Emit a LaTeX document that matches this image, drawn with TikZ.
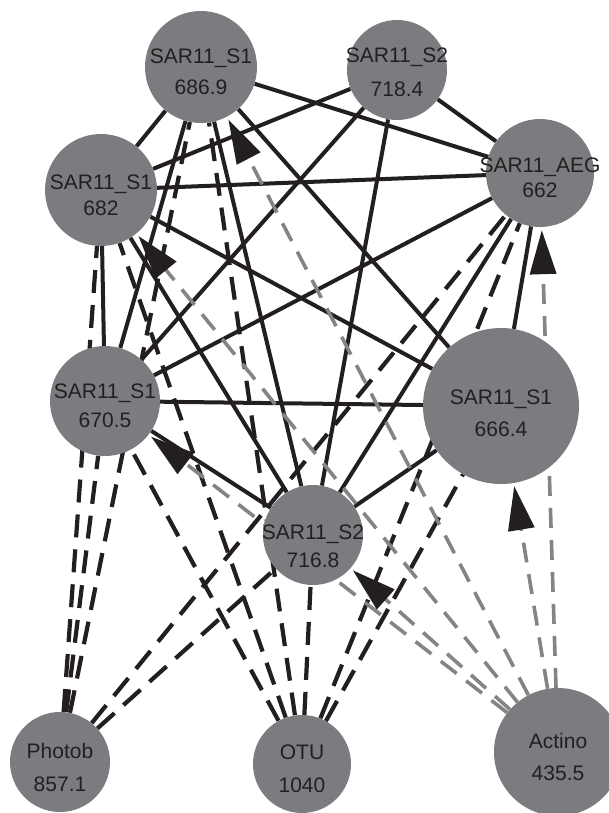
\documentclass[tikz,border=0pt]{standalone}
\usepackage{fontspec}
\setmainfont{Liberation Sans}
\usetikzlibrary{arrows.meta,backgrounds}
\definecolor{nodegray}{RGB}{123,124,128}
\definecolor{ink}{RGB}{35,31,32}
\definecolor{linegray}{RGB}{132,132,132}

\begin{document}
\begin{tikzpicture}[x=1pt,y=-1pt,
    vtx/.style={circle,fill=nodegray,inner sep=0pt},
    lab/.style={text=ink,font=\fontsize{21}{24}\selectfont,align=center,yshift=-5pt},
    tie/.style={ink,line width=4pt},
    dashline/.style={ink,line width=4.2pt,dash pattern=on 23pt off 12pt},
    pull/.style={linegray,line width=3.6pt,dash pattern=on 20pt off 12pt,
      -{Stealth[length=44pt,width=26pt,inset=0pt,ink]},shorten >=3pt}]
    \useasboundingbox (0,0) rectangle (608,813);

    \node[vtx,minimum size=112pt,label={[lab]center:{SAR11\_S1\\[7pt]686.9}}](s1a) at (201,67){};
    \node[vtx,minimum size=100pt,label={[lab,yshift=2.5pt]center:{SAR11\_S2\\[10pt]718.4}}](s2a) at (397,70){};
    \node[vtx,minimum size=108pt,label={[lab]center:{SAR11\_AEG\\[1pt]662}}](aeg) at (540,173){};
    \node[vtx,minimum size=112pt,label={[lab]center:{SAR11\_S1\\[2pt]682}}](s1b) at (101,190){};
    \node[vtx,minimum size=110pt,label={[lab]center:{SAR11\_S1\\[5pt]670.5}}](s1c) at (105,401){};
    \node[vtx,minimum size=156pt,label={[lab,yshift=-2.5pt]center:{SAR11\_S1\\[8pt]666.4}}](s1d) at (501,406){};
    \node[vtx,minimum size=100pt,label={[lab,yshift=-6pt]center:{SAR11\_S2\\[4pt]716.8}}](s2b) at (313,535){};
    \node[vtx,minimum size=100pt,label={[lab]center:{Photob\\[9pt]857.1}}](photob) at (60,762){};
    \node[vtx,minimum size=98pt,label={[lab]center:{OTU\\[9pt]1040}}](otu) at (302,764){};
    \node[vtx,minimum size=128pt,label={[lab]center:{Actino\\[8pt]435.5}}](actino) at (558,752){};

    \begin{pgfonlayer}{background}
    \draw[tie](s1a)--(aeg);
    \draw[tie](s1a)--(s1b);
    \draw[tie](s1a)--(s1c);
    \draw[tie](s1a)--(s1d);
    \draw[tie](s1a)--(s2b);
    \draw[tie](s2a)--(aeg);
    \draw[tie](s2a)--(s1b);
    \draw[tie](s2a)--(s1c);
    \draw[tie](s2a)--(s2b);
    \draw[tie](aeg)--(s1b);
    \draw[tie](aeg)--(s1c);
    \draw[tie](aeg)--(s1d);
    \draw[tie](aeg)--(s2b);
    \draw[tie](s1b)--(s1c);
    \draw[tie](s1b)--(s1d);
    \draw[tie](s1b)--(s2b);
    \draw[tie](s1c)--(s1d);
    \draw[tie](s1c)--(s2b);
    \draw[tie](s1d)--(s2b);

    \draw[dashline](photob)--(s1a);
    \draw[dashline](photob)--(s1b);
    \draw[dashline](photob)--(s1c);
    \draw[dashline](photob)--(aeg);
    \draw[dashline](photob)--(s2b);
    \draw[dashline](otu)--(s1a);
    \draw[dashline](otu)--(s1b);
    \draw[dashline](otu)--(s1c);
    \draw[dashline](otu)--(s2b);
    \draw[dashline](otu)--(aeg);
    \draw[dashline](otu)--(s1d);

    \draw[pull](actino)--(aeg);
    \draw[pull](actino)--(s1d);
    \draw[pull](actino)--(s1a);
    \draw[pull](actino)--(s1b);
    \draw[pull](actino)--(s1c);
    \draw[pull](actino)--(s2b);
    \end{pgfonlayer}
\end{tikzpicture}
\end{document}
